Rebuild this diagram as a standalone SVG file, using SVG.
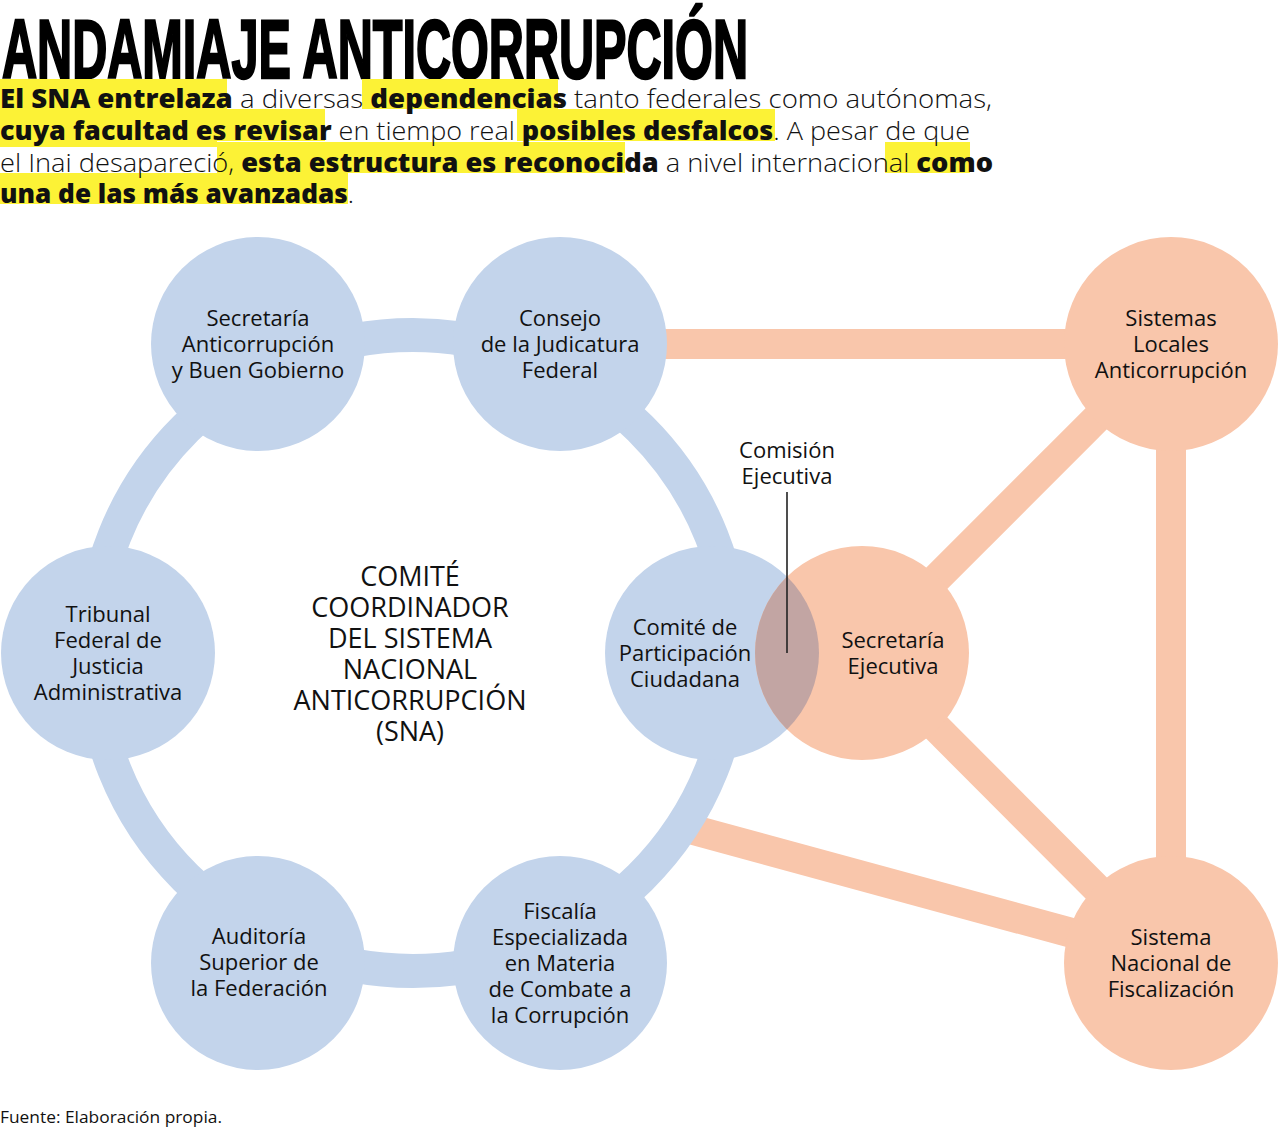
<svg xmlns="http://www.w3.org/2000/svg" width="1280" height="1128" viewBox="0 0 1280 1128">
<defs>
<style>
.bg{fill:#ffffff}
.hl{fill:#fcf236}
.title{font-family:"Liberation Sans",Arial,sans-serif;font-weight:700;font-size:83px;fill:#000;stroke:#000;stroke-width:2.5px}
.body{font-family:"Open Sans","Noto Sans",sans-serif;font-size:26.5px;font-weight:300;fill:#111}
.b{font-weight:800}
.blue{fill:#c3d4eb}
.orange{fill:#f9c6ab}
.lens{fill:#c2a5a3}
.ring{fill:none;stroke:#c3d4eb;stroke-width:34}
.conn{stroke:#f9c6ab;stroke-width:30;fill:none;stroke-linecap:butt}
.lbl{font-family:"Open Sans","Noto Sans",sans-serif;font-size:22px;fill:#111;text-anchor:middle}
.center{font-family:"Open Sans","Noto Sans",sans-serif;font-size:27px;fill:#111;text-anchor:middle}
.foot{font-family:"Open Sans","Noto Sans",sans-serif;font-size:16px;fill:#111}
</style>
<clipPath id="clipComite"><circle cx="712" cy="653" r="107"/></clipPath>
</defs>
<rect class="bg" x="0" y="0" width="1280" height="1128"/>

<g id="header">
<text class="title" x="2" y="78" textLength="746" lengthAdjust="spacingAndGlyphs">ANDAMIAJE ANTICORRUPCIÓN</text>
<rect class="hl" x="0" y="79" width="227" height="30"/>
<rect class="hl" x="362" y="79" width="196" height="30"/>
<path class="hl" d="M0 109 H325 V141 H217 V147 H0 Z"/>
<rect class="hl" x="517" y="109" width="258" height="32"/>
<rect class="hl" x="217" y="142" width="408" height="31"/>
<rect class="hl" x="885" y="142" width="85" height="31"/>
<rect class="hl" x="0" y="173" width="348" height="31"/>
<text class="body" x="0" y="108" textLength="992" lengthAdjust="spacingAndGlyphs"><tspan class="b">El SNA entrelaza</tspan> a diversas <tspan class="b">dependencias</tspan> tanto federales como autónomas,</text>
<text class="body" x="0" y="140" textLength="970" lengthAdjust="spacingAndGlyphs"><tspan class="b">cuya facultad es revisar</tspan> en tiempo real <tspan class="b">posibles desfalcos</tspan>. A pesar de que</text>
<text class="body" x="0" y="172" textLength="993" lengthAdjust="spacingAndGlyphs">el Inai desapareció, <tspan class="b">esta estructura es reconocida</tspan> a nivel internacional <tspan class="b">como</tspan></text>
<text class="body" x="0" y="203" textLength="354" lengthAdjust="spacingAndGlyphs"><tspan class="b">una de las más avanzadas</tspan>.</text>
</g>

<g id="connectors">
<line class="conn" x1="560" y1="344" x2="1171" y2="344"/>
<line class="conn" x1="1171" y1="344" x2="862" y2="653"/>
<line class="conn" x1="1171" y1="344" x2="1171" y2="963"/>
<line class="conn" x1="862" y1="653" x2="1171" y2="963"/>
<line class="conn" x1="690" y1="829" x2="1171" y2="960"/>
<ellipse class="ring" cx="413" cy="653" rx="321" ry="318"/>
</g>

<g id="n1"><circle class="blue" cx="258" cy="344" r="107"/>
<text class="lbl" x="258" y="326">Secretaría</text><text class="lbl" x="258" y="352">Anticorrupción</text><text class="lbl" x="258" y="378">y Buen Gobierno</text></g>
<g id="n2"><circle class="blue" cx="560" cy="344" r="107"/>
<text class="lbl" x="560" y="326">Consejo</text><text class="lbl" x="560" y="352">de la Judicatura</text><text class="lbl" x="560" y="378">Federal</text></g>
<g id="n3"><circle class="blue" cx="108" cy="653" r="107"/>
<text class="lbl" x="108" y="622">Tribunal</text><text class="lbl" x="108" y="648">Federal de</text><text class="lbl" x="108" y="674">Justicia</text><text class="lbl" x="108" y="700">Administrativa</text></g>
<g id="n5"><circle class="blue" cx="258" cy="963" r="107"/>
<text class="lbl" x="259" y="944">Auditoría</text><text class="lbl" x="259" y="970">Superior de</text><text class="lbl" x="259" y="996">la Federación</text></g>
<g id="n6"><circle class="blue" cx="560" cy="963" r="107"/>
<text class="lbl" x="560" y="919">Fiscalía</text><text class="lbl" x="560" y="945">Especializada</text><text class="lbl" x="560" y="971">en Materia</text><text class="lbl" x="560" y="997">de Combate a</text><text class="lbl" x="560" y="1023">la Corrupción</text></g>
<g id="n7"><circle class="orange" cx="1171" cy="344" r="107"/>
<text class="lbl" x="1171" y="326">Sistemas</text><text class="lbl" x="1171" y="352">Locales</text><text class="lbl" x="1171" y="378">Anticorrupción</text></g>
<g id="n9"><circle class="orange" cx="1171" cy="963" r="107"/>
<text class="lbl" x="1171" y="945">Sistema</text><text class="lbl" x="1171" y="971">Nacional de</text><text class="lbl" x="1171" y="997">Fiscalización</text></g>
<g id="n4"><circle class="blue" cx="712" cy="653" r="107"/></g>
<g id="n8"><circle class="orange" cx="862" cy="653" r="107"/>
<circle class="lens" cx="862" cy="653" r="107" clip-path="url(#clipComite)"/></g>
<g id="n4-label"><text class="lbl" x="685" y="635">Comité de</text><text class="lbl" x="685" y="661">Participación</text><text class="lbl" x="685" y="687">Ciudadana</text></g>
<g id="n8-label"><text class="lbl" x="893" y="648">Secretaría</text><text class="lbl" x="893" y="674">Ejecutiva</text></g>

<g id="comision">
<text class="lbl" x="787" y="458">Comisión</text><text class="lbl" x="787" y="484">Ejecutiva</text>
<line x1="787" y1="492" x2="787" y2="653" stroke="#222" stroke-width="1.6"/>
</g>

<g id="center">
<text class="center" x="410" y="586">COMITÉ</text>
<text class="center" x="410" y="617">COORDINADOR</text>
<text class="center" x="410" y="648">DEL SISTEMA</text>
<text class="center" x="410" y="679">NACIONAL</text>
<text class="center" x="410" y="710">ANTICORRUPCIÓN</text>
<text class="center" x="410" y="741">(SNA)</text>
</g>

<text class="foot" x="0" y="1123" textLength="222" lengthAdjust="spacingAndGlyphs">Fuente: Elaboración propia.</text>
</svg>
